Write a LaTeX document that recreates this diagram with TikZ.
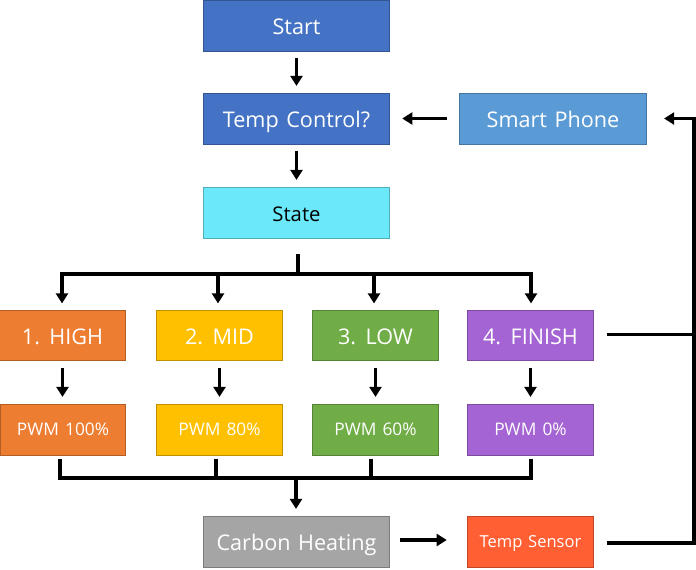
\documentclass[tikz,border=0pt]{standalone}
\usepackage{fontspec}
\setmainfont[WordSpace=1.35]{Open Sans}
\usetikzlibrary{arrows.meta,positioning}
\definecolor{cblue}{HTML}{4472C4}
\definecolor{clight}{HTML}{5B9BD5}
\definecolor{ccyan}{HTML}{6BE8F9}
\definecolor{corange}{HTML}{ED7D31}
\definecolor{cyellow}{HTML}{FFC000}
\definecolor{cgreen}{HTML}{70AD47}
\definecolor{cpurple}{HTML}{A564D3}
\definecolor{cgray}{HTML}{A5A5A5}
\definecolor{csensor}{HTML}{FF5F33}
\tikzset{
  x=0.75pt,y=-0.75pt,
  boxbase/.style={rectangle,inner sep=0pt,line width=0.6pt,text=white,anchor=center,text depth=0pt},
  bigfont/.style={font=\fontsize{16.2}{18}\selectfont,text height=13.8pt},
  wide/.style={boxbase,bigfont,minimum width=140pt,minimum height=38.25pt},
  narrow/.style={boxbase,bigfont,minimum width=94pt,minimum height=37.5pt},
  pwmbox/.style={boxbase,minimum width=94pt,minimum height=38.25pt,font=\fontsize{13}{14}\selectfont,text height=9pt},
  tinted/.style={fill=#1,draw=#1!75!black},
  conn/.style={line width=2.5pt,draw=black},
  arr/.style={conn,-{Triangle[width=9pt,length=7.6pt]}},
  gap/.style={shorten <=5pt,shorten >=5pt}
}
\begin{document}
\begin{tikzpicture}
\useasboundingbox (0,0) rectangle (696,569);
\fill[white] (0,0) rectangle (696,569);
\node[wide,tinted=cblue] (start) at (296.5,25.5) {Start};
\node[wide,tinted=cblue] (temp) at (296.5,118.5) {Temp Control?};
\node[wide,tinted=ccyan,text=black,font=\fontsize{15.2}{16}\selectfont,text height=14pt] (state) at (296.5,212.5) {State};
\node[wide,tinted=clight] (phone) at (553,118.5) {Smart Phone};
\node[narrow,tinted=corange] (high) at (62.5,335.5) {1. HIGH};
\node[narrow,tinted=cyellow] (mid) at (219.5,335.5) {2. MID};
\node[narrow,tinted=cgreen] (low) at (375.5,335.5) {3. LOW};
\node[narrow,tinted=cpurple] (finish) at (530.5,335.5) {4. FINISH};
\node[pwmbox,tinted=corange] (p100) at (63,429.5) {PWM 100\%};
\node[pwmbox,tinted=cyellow] (p80) at (219.5,429.5) {PWM 80\%};
\node[pwmbox,tinted=cgreen] (p60) at (375.5,429.5) {PWM 60\%};
\node[pwmbox,tinted=cpurple] (p0) at (530.5,429.5) {PWM 0\%};
\node[wide,tinted=cgray] (carbon) at (296.5,541.5) {Carbon Heating};
\node[pwmbox,tinted=csensor,font=\fontsize{12.4}{14}\selectfont] (sensor) at (530.5,541.5) {Temp Sensor};
% vertical flow
\draw[arr,gap] (start) -- (temp);
\draw[arr,gap] (temp) -- (state);
\draw[arr,shorten <=9pt,shorten >=9pt] (phone) -- (temp);
\coordinate (csrow) at (396,540);
\draw[arr,shorten <=7.5pt,shorten >=15.5pt] (carbon.east |- csrow) -- (sensor.west |- csrow);
\draw[arr,gap] (high.south) -- (p100.north -| high.south);
\draw[arr,gap] (mid.south) -- (p80.north -| mid.south);
\draw[arr,gap] (low.south) -- (p60.north -| low.south);
\draw[arr,gap] (finish.south) -- (p0.north -| finish.south);
% state bus
\coordinate (sbusl) at (62,274);
\coordinate (sbusr) at (531,274);
\coordinate (sdrop) at (298,274);
\coordinate (s2) at (218,274);
\coordinate (s3) at (374,274);
\draw[conn,shorten <=12pt] (state.south -| sdrop) -- (sdrop);
\draw[conn,line cap=rect] (sbusl) -- (sbusr);
\draw[arr,shorten >=5pt] (sbusl) -- (sbusl |- high.north);
\draw[arr,shorten >=5pt] (s2) -- (s2 |- mid.north);
\draw[arr,shorten >=5pt] (s3) -- (s3 |- low.north);
\draw[arr,shorten >=5pt] (sbusr) -- (sbusr |- finish.north);
% pwm bus
\coordinate (bbusl) at (60,478);
\coordinate (bbusr) at (531,478);
\coordinate (b2) at (216,478);
\coordinate (b3) at (371,478);
\coordinate (bdrop) at (296,478);
\draw[conn,shorten <=3pt] (p100.south -| bbusl) -- (bbusl);
\draw[conn,shorten <=3pt] (p80.south -| b2) -- (b2);
\draw[conn,shorten <=3pt] (p60.south -| b3) -- (b3);
\draw[conn,shorten <=3pt] (p0.south -| bbusr) -- (bbusr);
\draw[conn,line cap=rect] (bbusl) -- (bbusr);
\draw[arr,shorten >=5pt] (bdrop) -- (bdrop |- carbon.north);
% feedback
\coordinate (fbtop) at (694,118.5);
\coordinate (fbmid) at (694,334.5);
\coordinate (fbbot) at (694,543);
\draw[conn,shorten <=10pt] (finish.east |- fbmid) -- (fbmid);
\draw[arr,line join=miter,shorten <=10pt,shorten >=13pt] (sensor.east |- fbbot) -- (fbbot) -- (fbtop) -- (phone.east);
\end{tikzpicture}
\end{document}
